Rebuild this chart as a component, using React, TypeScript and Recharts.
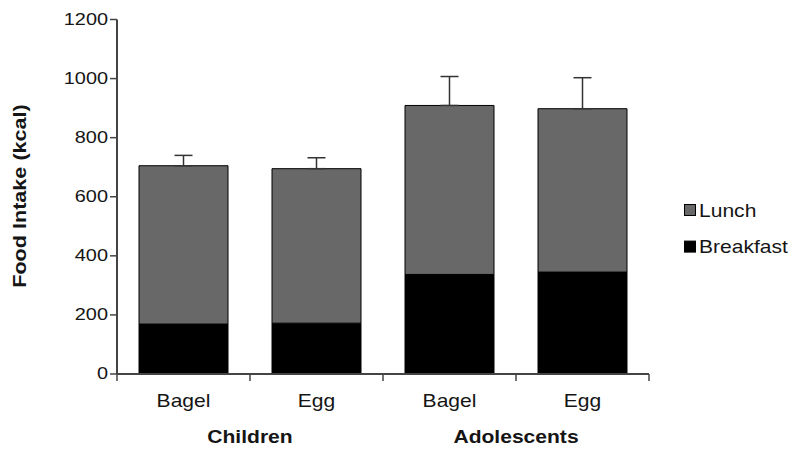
import React from 'react';
import { BarChart, Bar, XAxis, YAxis, ErrorBar, Legend } from 'recharts';

const foods = ['Bagel', 'Egg', 'Bagel', 'Egg'];
const groups = ['Children', 'Children', 'Adolescents', 'Adolescents'];
const breakfast = [169, 172, 337, 345];
const lunch = [536, 523, 572, 553];
const lunchErr = [35, 37, 98, 105];
const yTicks = [0, 200, 400, 600, 800, 1000, 1200];

const data = foods.map((f, i) => ({
  food: f,
  group: groups[i],
  breakfast: breakfast[i],
  lunch: lunch[i],
  err: [0, lunchErr[i]],
}));

const W = 800;
const H = 455;
const margin = { top: 19.5, right: 151, bottom: 0, left: 0 };
const xAxisH = 81;
const yAxisW = 117;
const plotW = W - margin.left - margin.right - yAxisW;
const band = plotW / foods.length;

const FONT = '"Liberation Sans", Arial, sans-serif';
const TXT = '#151515';
const AXIS = '#444';
const STRETCH = 1.17;

function YTick(props: any) {
  const { x, y, payload } = props;
  return (
    <text
      transform={`translate(${x},${y + 5}) scale(${STRETCH},1)`}
      textAnchor="end"
      fontFamily={FONT}
      fontSize={17}
      fill={TXT}
    >
      {payload.value}
    </text>
  );
}

function XTick(props: any) {
  const { x, y, index } = props;
  const left = x - band / 2;
  const g = groups[index];
  const first = index === 0 || groups[index - 1] !== g;
  const count = groups.filter((v) => v === g).length;
  return (
    <g>
      <line x1={left} x2={left} y1={y} y2={y + 7} stroke={AXIS} strokeWidth={1.5} />
      {index === foods.length - 1 && (
        <line x1={x + band / 2} x2={x + band / 2} y1={y} y2={y + 7} stroke={AXIS} strokeWidth={1.5} />
      )}
      <text
        transform={`translate(${x},${y + 33}) scale(${STRETCH},1)`}
        textAnchor="middle"
        fontFamily={FONT}
        fontSize={18}
        fill={TXT}
      >
        {foods[index]}
      </text>
      {first && (
        <text
          transform={`translate(${left + (count * band) / 2},${y + 69}) scale(${STRETCH},1)`}
          textAnchor="middle"
          fontFamily={FONT}
          fontSize={18}
          fontWeight="bold"
          fill={TXT}
        >
          {g}
        </text>
      )}
    </g>
  );
}

function LegendBox(props: any) {
  const items = [...(props.payload || [])].reverse();
  return (
    <svg width={130} height={70}>
      {items.map((it: any, i: number) => (
        <g key={it.value}>
          <rect x={4.5} y={9.5 + i * 36.6} width={11} height={11} fill={it.color} stroke="#000" strokeWidth={1} />
          <text
            transform={`translate(19,${21.7 + i * 36.6}) scale(${STRETCH},1)`}
            fontFamily={FONT}
            fontSize={18}
            fill={TXT}
          >
            {it.value}
          </text>
        </g>
      ))}
    </svg>
  );
}

export default function App() {
  return (
    <div style={{ width: W, height: H, background: '#fff', position: 'relative' }}>
      <style>{`body{margin:0}`}</style>
      <BarChart width={W} height={H} data={data} margin={margin} barSize={89}>
        <XAxis
          dataKey="food"
          height={xAxisH}
          axisLine={{ stroke: AXIS, strokeWidth: 2 }}
          tickLine={false}
          tickSize={0}
          tickMargin={0}
          tick={<XTick />}
          interval={0}
        />
        <YAxis
          width={yAxisW}
          domain={[0, 1200]}
          ticks={yTicks}
          axisLine={{ stroke: AXIS, strokeWidth: 2 }}
          tickLine={{ stroke: AXIS, strokeWidth: 1.5 }}
          tickSize={7}
          tick={<YTick />}
          label={{
            content: () => (
              <text
                transform={`translate(26,196) rotate(-90) scale(1.2,1)`}
                textAnchor="middle"
                fontFamily={FONT}
                fontSize={18}
                fontWeight="bold"
                fill={TXT}
              >
                Food Intake (kcal)
              </text>
            ),
          }}
        />
        <Legend
          layout="vertical"
          align="center"
          verticalAlign="middle"
          content={<LegendBox />}
          wrapperStyle={{ left: 680, top: 195, width: 130, height: 70 }}
        />
        <Bar dataKey="breakfast" name="Breakfast" stackId="a" fill="#000" stroke="#000" strokeWidth={1} isAnimationActive={false} />
        <Bar dataKey="lunch" name="Lunch" stackId="a" fill="#686868" stroke="#000" strokeWidth={1} isAnimationActive={false}>
          <ErrorBar dataKey="err" width={9} stroke="#333" strokeWidth={1.5} direction="y" />
        </Bar>
      </BarChart>
    </div>
  );
}
